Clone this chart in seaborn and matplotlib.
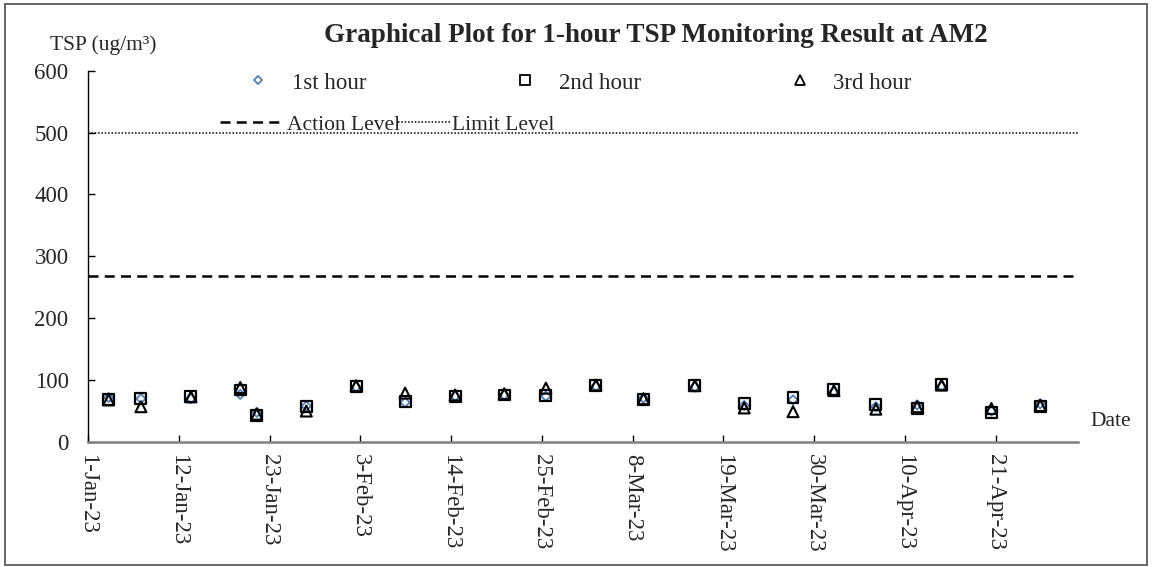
import pandas as pd
import matplotlib
matplotlib.use("Agg")
import matplotlib.pyplot as plt
import matplotlib.patches as mpatches
from matplotlib.lines import Line2D
import seaborn as sns

# sampling dates (with time of day) and 1-hour TSP results, ug/m3
dates = [
    "2023-01-03 12:00", "2023-01-07 10:00", "2023-01-13 11:30", "2023-01-19 11:00",
    "2023-01-21 11:00", "2023-01-27 11:00", "2023-02-02 12:00", "2023-02-08 10:30",
    "2023-02-14 12:00", "2023-02-20 11:00", "2023-02-25 12:00", "2023-03-03 13:30",
    "2023-03-09 08:00", "2023-03-15 13:30", "2023-03-21 13:00", "2023-03-27 11:00",
    "2023-04-01 10:00", "2023-04-06 12:00", "2023-04-11 12:00", "2023-04-14 11:00",
    "2023-04-20 12:00", "2023-04-26 10:00",
]
hour1 = [72, 70, 70, 77, 48, 58, 89, 64, 74, 76, 74, 90, 71, 89, 59, 68, 81, 57, 60, 90, 50, 62]
hour2 = [68, 70, 74, 84, 43, 57, 90, 66, 74, 76, 75, 92, 69, 92, 62, 72, 85, 60, 54, 93, 47, 58]
hour3 = [68, 57, 73, 88, 45, 50, 91, 79, 76, 78, 87, 92, 70, 91, 55, 49, 83, 53, 57, 92, 54, 59]

action_level = 269
limit_level = 500

series_names = ["1st hour", "2nd hour", "3rd hour"]
tick_dates = pd.date_range("2023-01-01", periods=11, freq="11D")
y_ticks = [0, 100, 200, 300, 400, 500, 600]

df = pd.DataFrame({"Date": pd.to_datetime(dates), "1st hour": hour1,
                   "2nd hour": hour2, "3rd hour": hour3})
long = df.melt(id_vars="Date", var_name="Series", value_name="TSP")

sns.set_theme(style="ticks")
plt.rcParams["font.family"] = ["Liberation Serif", "DejaVu Serif"]
plt.rcParams["font.size"] = 16.5

fig = plt.figure(figsize=(11.52, 5.67), dpi=100)
ax = fig.add_axes([88 / 1152, 1 - 442 / 567, (1078 - 88) / 1152, (442 - 70.7) / 567])

styles = {
    "1st hour": dict(marker="D", s=22, edgecolor="#4F81BD", linewidth=1.3),
    "2nd hour": dict(marker="s", s=62, edgecolor="black", linewidth=1.6),
    "3rd hour": dict(marker="^", s=62, edgecolor="black", linewidth=1.5),
}
for name in series_names:
    sub = long[long["Series"] == name]
    sns.scatterplot(data=sub, x="Date", y="TSP", ax=ax, facecolor="none",
                    legend=False, zorder=3, **styles[name])

dash = (0, (4, 2.5))
dot = (0, (1, 1.2))
ax.axhline(action_level, color="black", linestyle=dash, linewidth=1.8)
ax.axhline(limit_level, color="black", linestyle=dot, linewidth=1.1)

ax.set_xlim(pd.Timestamp("2023-01-01"), pd.Timestamp("2023-05-01"))
ax.set_ylim(0, 600)
ax.set_xticks(tick_dates)
ax.set_xticklabels([f"{d.day}-{d:%b-%y}" for d in tick_dates], rotation=-90,
                   va="top", ha="center", fontsize=16.5)
ax.set_yticks(y_ticks)
ax.set_yticklabels([str(v) for v in y_ticks], fontsize=16.5)
ax.tick_params(axis="y", direction="in", length=5, width=1, pad=14, color="black")
ax.tick_params(axis="x", direction="in", length=5, width=1, pad=9, color="black")
ax.set_xlabel("")
ax.set_ylabel("")
for side in ["top", "right"]:
    ax.spines[side].set_visible(False)
ax.spines["left"].set_color("black")
ax.spines["left"].set_linewidth(1.0)
ax.spines["bottom"].set_color("#808080")
ax.spines["bottom"].set_linewidth(1.8)

# legends
marker_handles = [
    Line2D([], [], linestyle="none", marker=styles[n]["marker"],
           markersize=styles[n]["s"] ** 0.5 * 0.85, markerfacecolor="none",
           markeredgecolor=styles[n]["edgecolor"], markeredgewidth=1.3)
    for n in series_names
]
fig.legend(marker_handles, series_names, loc="center left",
           bbox_to_anchor=(247 / 1152, 1 - 83 / 567), ncol=3, frameon=False,
           borderpad=0, borderaxespad=0, handlelength=1.0, handletextpad=0.95,
           columnspacing=6.45, fontsize=16.5)
fig.legend([Line2D([], [], color="black", linestyle=dash, linewidth=1.8)],
           ["Action Level"], loc="center left",
           bbox_to_anchor=(220 / 1152, 1 - 125 / 567), frameon=False,
           borderpad=0, borderaxespad=0, handlelength=3.0, handletextpad=0.12,
           fontsize=15.5)
fig.legend([Line2D([], [], color="black", linestyle=dot, linewidth=1.1)],
           ["Limit Level"], loc="center left",
           bbox_to_anchor=(398 / 1152, 1 - 125 / 567), frameon=False,
           borderpad=0, borderaxespad=0, handlelength=2.4, handletextpad=0.1,
           fontsize=15.5)

fig.text(656 / 1152, 1 - 35 / 567,
         "Graphical Plot for 1-hour TSP Monitoring Result at AM2",
         ha="center", va="center", fontsize=19.5, fontweight="bold")
fig.text(50 / 1152, 1 - 45 / 567, "TSP (ug/m\u00b3)", ha="left", va="center",
         fontsize=15.5)
fig.text(1090 / 1152, 1 - 421 / 567, "Date", ha="left", va="center", fontsize=15.5)

border = mpatches.Rectangle((5 / 1152, 2 / 567), 1142 / 1152, 561 / 567,
                            transform=fig.transFigure, fill=False,
                            edgecolor="#595959", linewidth=1.3)
fig.patches.append(border)

fig.savefig("out.png", dpi=100, facecolor="white")
